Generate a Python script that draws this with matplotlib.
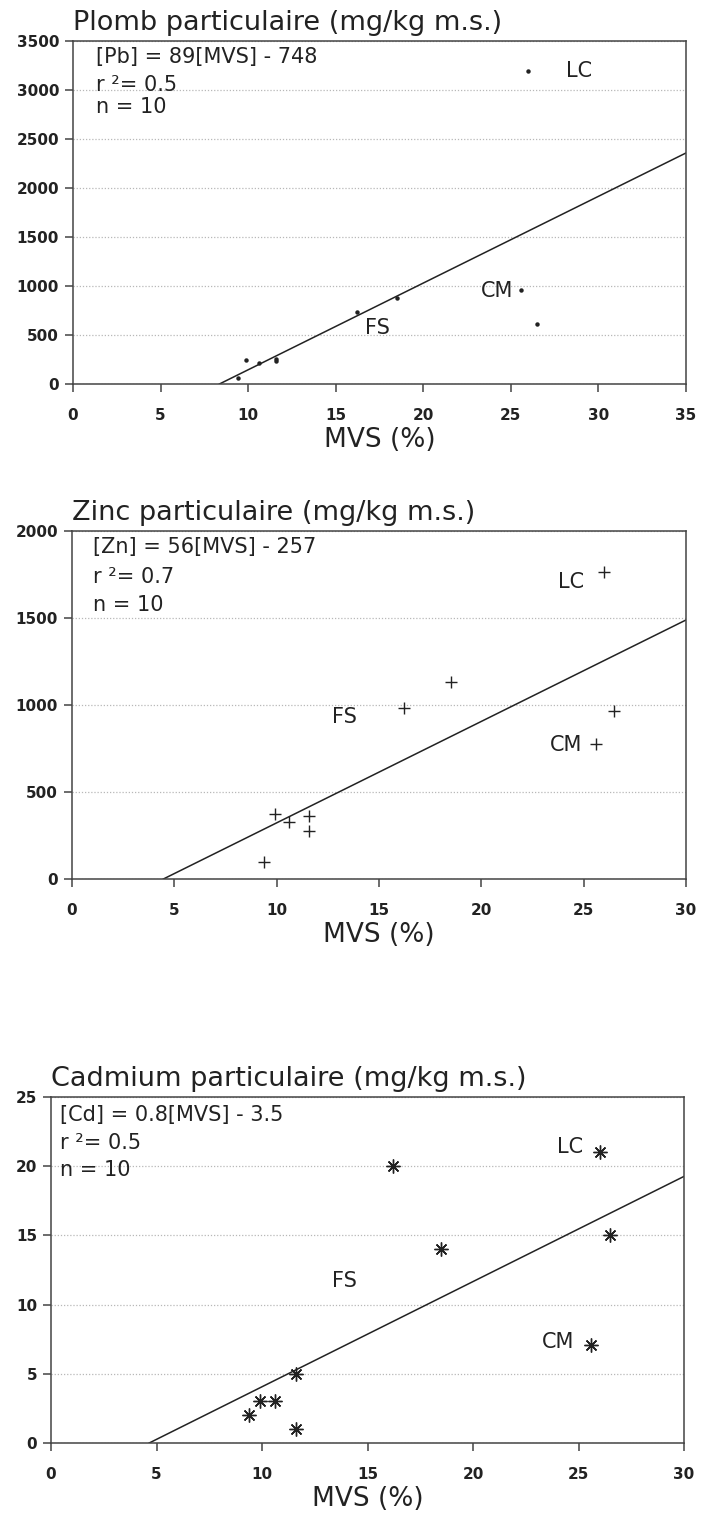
import matplotlib
matplotlib.use("Agg")
import matplotlib.pyplot as plt

# MVS (%) des 10 stations (meme ordre pour les trois metaux)
mvs = [9.4, 9.9, 10.6, 11.6, 11.6, 16.2, 18.5, 25.6, 26.0, 26.5]

pb = [65, 240, 210, 235, 260, 730, 880, 960, 3190, 615]
zn = [100, 375, 330, 360, 275, 985, 1135, 775, 1765, 965]
cd = [2, 3, 3, 5, 1, 20, 14, 7.1, 21, 15]

# droites de regression (pente, ordonnee)
fit_pb = (88.5, -740)
fit_zn = (58.3, -260)
fit_cd = (0.76, -3.54)

titres = ["Plomb particulaire (mg/kg m.s.)",
          "Zinc particulaire (mg/kg m.s.)",
          "Cadmium particulaire (mg/kg m.s.)"]
equations = ["[Pb] = 89[MVS] - 748",
             "[Zn] = 56[MVS] - 257",
             "[Cd] = 0.8[MVS] - 3.5"]
r2 = ["0.5", "0.7", "0.5"]
n = ["10", "10", "10"]

xmax = [35, 30, 30]
ymax = [3500, 2000, 25]
ystep = [500, 500, 5]
xstep = [5, 5, 5]

# positions des etiquettes de sites (x, y) en unites des donnees
sites = ["LC", "CM", "FS"]
pos_pb = [(28.9, 3195), (24.2, 950), (17.4, 575)]
pos_zn = [(24.4, 1709), (24.15, 771), (13.3, 930)]
pos_cd = [(24.6, 21.4), (24.05, 7.3), (13.9, 11.7)]

encre = "#222222"
txt_font = "DejaVu Sans"

fig = plt.figure(figsize=(7.01, 15.13), dpi=100)
fig.patch.set_facecolor("white")

rects = [[0.1041, 0.7462, 0.8745, 0.2267],
         [0.1027, 0.4190, 0.8759, 0.2300],
         [0.0728, 0.0463, 0.9030, 0.2287]]
txt_x = [0.0375, 0.034, 0.0147]
txt_y = [(0.953, 0.872, 0.808), (0.953, 0.869, 0.787), (0.948, 0.866, 0.789)]

donnees = [pb, zn, cd]
fits = [fit_pb, fit_zn, fit_cd]
positions = [pos_pb, pos_zn, pos_cd]
marqueurs = [dict(marker="o", ms=3.2, mew=0),
             dict(marker="+", ms=8.5, mew=1.0),
             dict(marker=(8, 2, 0), ms=10, mew=1.0)]

for i in range(3):
    ax = fig.add_axes(rects[i])
    ax.set_xlim(0, xmax[i])
    ax.set_ylim(0, ymax[i])
    ax.set_xticks(range(0, xmax[i] + 1, xstep[i]))
    yt = [k * ystep[i] for k in range(int(ymax[i] / ystep[i]) + 1)]
    ax.set_yticks(yt)
    ax.set_yticklabels([str(v) for v in yt])

    for sp in ax.spines.values():
        sp.set_color("#444444")
        sp.set_linewidth(1.1)
    ax.tick_params(axis="both", direction="out", length=6, width=1.1,
                   color="#444444", labelcolor=encre)
    ax.tick_params(axis="x", pad=11)
    ax.tick_params(axis="y", pad=4)
    for lab in ax.get_xticklabels() + ax.get_yticklabels():
        lab.set_fontfamily(txt_font)
        lab.set_fontweight("bold")
        lab.set_fontsize(11)

    ax.yaxis.grid(True, linestyle=(0, (1, 1.5)), color="#b8b8b8", lw=0.9)
    ax.set_axisbelow(True)

    a, b = fits[i]
    x0 = -b / a
    ax.plot([x0, xmax[i]], [a * x0 + b, a * xmax[i] + b], color=encre, lw=1.1)

    ax.plot(mvs, donnees[i], linestyle="none", color=encre,
            markeredgecolor=encre, **marqueurs[i])

    for s, (px, py) in zip(sites, positions[i]):
        ax.text(px, py, s, ha="center", va="center", fontsize=15,
                family=txt_font, color=encre)

    ax.text(txt_x[i], txt_y[i][0], equations[i], transform=ax.transAxes,
            ha="left", va="center", fontsize=15, family=txt_font, color=encre)
    ax.text(txt_x[i], txt_y[i][1], "r ²= " + r2[i], transform=ax.transAxes,
            ha="left", va="center", fontsize=15, family=txt_font, color=encre)
    ax.text(txt_x[i], txt_y[i][2], "n = " + n[i], transform=ax.transAxes,
            ha="left", va="center", fontsize=15, family=txt_font, color=encre)

    ax.annotate(titres[i], xy=(0, 1), xycoords="axes fraction",
                xytext=(0, 8), textcoords="offset points",
                ha="left", va="baseline", fontsize=19.5, family=txt_font,
                color=encre)
    ax.set_xlabel("MVS (%)", fontsize=19, family=txt_font, color=encre,
                  labelpad=3)

fig.savefig("out.png", dpi=100)
